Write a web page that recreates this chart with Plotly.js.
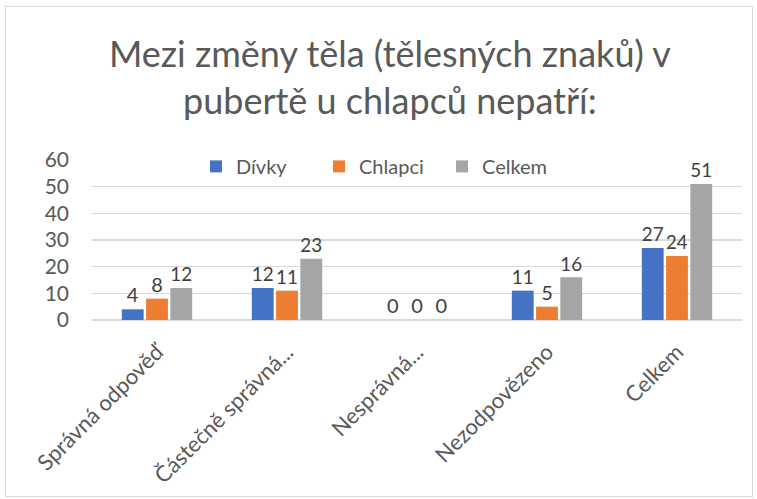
<!DOCTYPE html>
<html><head><meta charset="utf-8">
<script src="https://cdn.plot.ly/plotly-3.0.1.min.js"></script>
<style>
html,body{margin:0;padding:0;background:#fff;}
#wrap{position:relative;width:757px;height:499px;}
#frame{position:absolute;left:5px;top:6px;width:748px;height:491px;border:1.5px solid #d9d9d9;box-sizing:border-box;pointer-events:none;}
#chart{position:absolute;left:0;top:0;width:757px;height:499px;}
</style></head>
<body><div id="wrap"><div id="chart"></div><div id="frame"></div></div>
<script>
const categories = ["Správná odpověď", "Částečně správná...", "Nesprávná...", "Nezodpovězeno", "Celkem"];
const divky = [4, 12, 0, 11, 27];
const chlapci = [8, 11, 0, 5, 24];
const celkem = [12, 23, 0, 16, 51];
const seriesNames = ["Dívky", "Chlapci", "Celkem"];
const colors = ["#4472c4", "#ed7d31", "#a5a5a5"];
const yTicks = [0, 10, 20, 30, 40, 50, 60];

const font = "Lato, 'Open Sans', sans-serif";
const traces = [divky, chlapci, celkem].map((vals, i) => ({
  type: "bar",
  x: categories,
  y: vals,
  name: seriesNames[i],
  marker: {color: colors[i]},
  text: vals.map(String),
  textposition: "outside",
  textfont: {family: font, size: 20, color: "#404040"},
  cliponaxis: false
}));

const layout = {
  width: 757, height: 499,
  margin: {l: 92, r: 15, t: 160, b: 179},
  paper_bgcolor: "#fff", plot_bgcolor: "#fff",
  title: {
    text: "Mezi změny těla (tělesných znaků) v<br>pubertě u chlapců nepatří:",
    font: {family: font, size: 36, color: "#595959"},
    x: 0.515, xanchor: "center", y: 0.865, yanchor: "top"
  },
  barmode: "group",
  bargap: 0.44,
  bargroupgap: 0.1,
  showlegend: true,
  legend: {
    orientation: "h", x: 0.16, xanchor: "left", y: 0.96, yanchor: "middle",
    font: {family: font, size: 20, color: "#595959"},
    bgcolor: "rgba(0,0,0,0)", itemwidth: 30, tracegroupgap: 0,
    entrywidth: 78, entrywidthmode: "pixels"
  },
  xaxis: {
    tickangle: -45,
    tickfont: {family: font, size: 22, color: "#595959"},
    showline: false, showgrid: false, ticks: "", fixedrange: true,
    ticklabelstandoff: 14
  },
  yaxis: {
    range: [0, 60], tickvals: yTicks, ticktext: yTicks.map(String),
    tickfont: {family: font, size: 21, color: "#595959"},
    gridcolor: "#d9d9d9", gridwidth: 1.5, zeroline: true, zerolinecolor: "#d9d9d9", zerolinewidth: 1.5,
    showline: false, ticks: "", ticklabelstandoff: 22
  }
};
Plotly.newPlot("chart", traces, layout, {displayModeBar: false, staticPlot: true});
</script></body></html>
